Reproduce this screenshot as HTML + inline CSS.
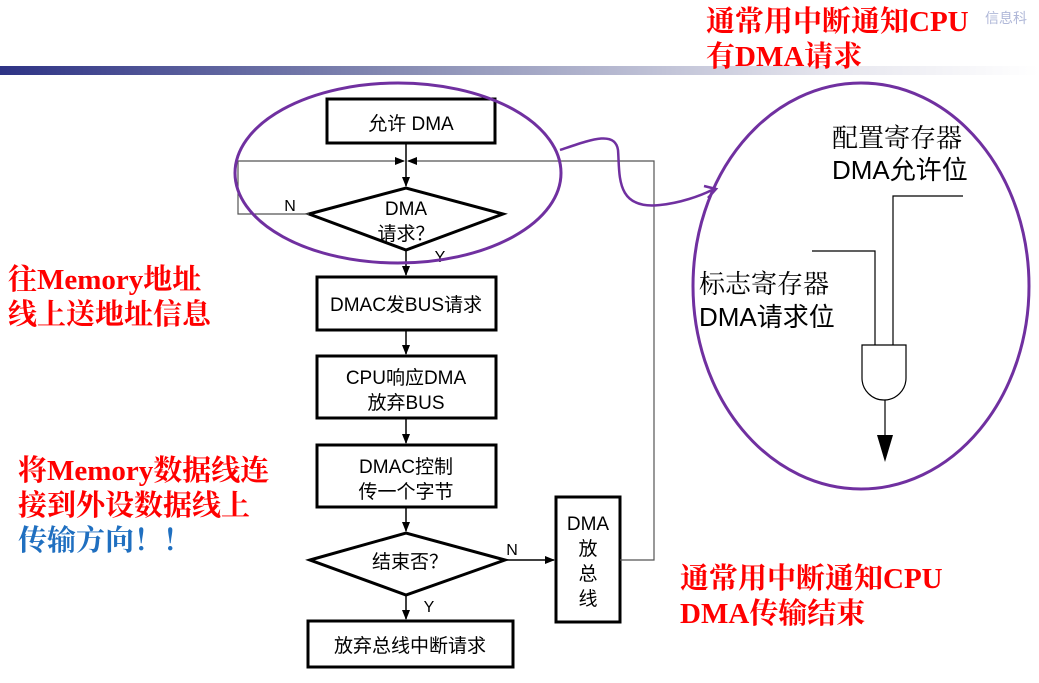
<!DOCTYPE html>
<html><head><meta charset="utf-8"><style>
body{margin:0;width:1039px;height:683px;overflow:hidden;background:#fff;position:relative;font-family:"Liberation Sans","Noto Sans CJK SC",sans-serif}
.t{position:absolute;white-space:nowrap}
.red{color:#f00;font-family:"Liberation Serif","Noto Serif CJK SC",serif;font-weight:bold;font-size:29px;line-height:35px}
</style></head><body>
<div style="position:absolute;left:0;top:66px;width:1039px;height:9px;background:linear-gradient(90deg,#2e3385,#8a8fb5 40%,#e6e6ee 80%,#fff)"></div>
<svg width="1039" height="683" style="position:absolute;left:0;top:0" font-family="Liberation Sans,Noto Sans CJK SC,sans-serif">
<defs><marker id="a" markerWidth="10" markerHeight="10" refX="9" refY="5" orient="auto" markerUnits="userSpaceOnUse"><path d="M0,1 L10,5 L0,9z" fill="#000"/></marker></defs>
<g stroke="#000" fill="none" stroke-width="3">
<rect x="327" y="99" width="168" height="44"/>
<polygon points="309,214 406,188 503,214 406,250"/>
<rect x="317" y="277" width="179" height="53"/>
<rect x="317" y="356" width="179" height="62"/>
<rect x="317" y="445" width="179" height="62"/>
<polygon points="310,560 406,533 505,560 406,595"/>
<rect x="556" y="497" width="64" height="125"/>
<rect x="308" y="621" width="205" height="46"/>
</g>
<g stroke="#000" stroke-width="1.5" fill="none">
<line x1="406" y1="143" x2="406" y2="186" marker-end="url(#a)"/>
<line x1="406" y1="250" x2="406" y2="275" marker-end="url(#a)"/>
<line x1="406" y1="330" x2="406" y2="354" marker-end="url(#a)"/>
<line x1="406" y1="418" x2="406" y2="443" marker-end="url(#a)"/>
<line x1="406" y1="507" x2="406" y2="531" marker-end="url(#a)"/>
<line x1="406" y1="595" x2="406" y2="619" marker-end="url(#a)"/>
<line x1="505" y1="560" x2="554" y2="560" marker-end="url(#a)"/>
</g>
<g stroke="#555" stroke-width="1.2" fill="none">
<polyline points="309,214 238,214 238,161 404,161" marker-end="url(#a)"/>
<polyline points="620,560 654,560 654,161 408,161" marker-end="url(#a)"/>
</g>
<g font-size="19" fill="#000" text-anchor="middle">
<text x="411" y="130">允许 DMA</text>
<text x="406" y="215">DMA</text><text x="406" y="240">请求？</text>
<text x="406" y="311">DMAC发BUS请求</text>
<text x="406" y="384">CPU响应DMA</text><text x="406" y="409">放弃BUS</text>
<text x="406" y="473">DMAC控制</text><text x="406" y="498">传一个字节</text>
<text x="410" y="568">结束否？</text>
<text x="588" y="530">DMA</text><text x="588" y="555">放</text><text x="588" y="580">总</text><text x="588" y="605">线</text>
<text x="410" y="652">放弃总线中断请求</text>
<text x="290" y="211" font-size="16">N</text>
<text x="440" y="262" font-size="16">Y</text>
<text x="512" y="555" font-size="16">N</text>
<text x="429" y="612" font-size="16">Y</text>
</g>
<g stroke="#7030a0" stroke-width="3" fill="none">
<ellipse cx="398" cy="173" rx="163" ry="90"/>
<ellipse cx="861" cy="286" rx="168" ry="203"/>
<path d="M560,150 C590,140 615,130 618,150 C620,175 615,210 660,205 C680,203 700,196 712,190" stroke-width="2.5"/>
<path d="M704,186 L716,189 L708,198" stroke-width="2.5"/>
</g>
<g stroke="#000" stroke-width="1.2" fill="none">
<polyline points="963,196 893,196 893,345"/>
<polyline points="812,251 875,251 875,345"/>
<path d="M862,345 H906 V378 A22,22 0 0 1 862,378 Z"/>
<line x1="885" y1="400" x2="885" y2="440"/>
</g>
<path d="M877,435 L893,435 L885,462z" fill="#000"/>
<g font-size="26" fill="#000">
<text x="832" y="147" font-family="Liberation Serif,Noto Serif CJK SC,serif">配置寄存器</text>
<text x="832" y="179">DMA允许位</text>
<text x="699" y="293" font-family="Liberation Serif,Noto Serif CJK SC,serif">标志寄存器</text>
<text x="699" y="326">DMA请求位</text>
</g>
</svg>
<div class="t red" style="left:706px;top:5px">通常用中断通知CPU<br>有DMA请求</div>
<div class="t red" style="left:8px;top:263px">往Memory地址<br>线上送地址信息</div>
<div class="t red" style="left:18px;top:454px">将Memory数据线连<br>接到外设数据线上<br><span style="color:#1f6fc0">传输方向！！</span></div>
<div class="t red" style="left:680px;top:562px">通常用中断通知CPU<br>DMA传输结束</div>
<div class="t" style="left:985px;top:8px;color:#b0b8d8;font-size:14px">信息科</div>
</body></html>
